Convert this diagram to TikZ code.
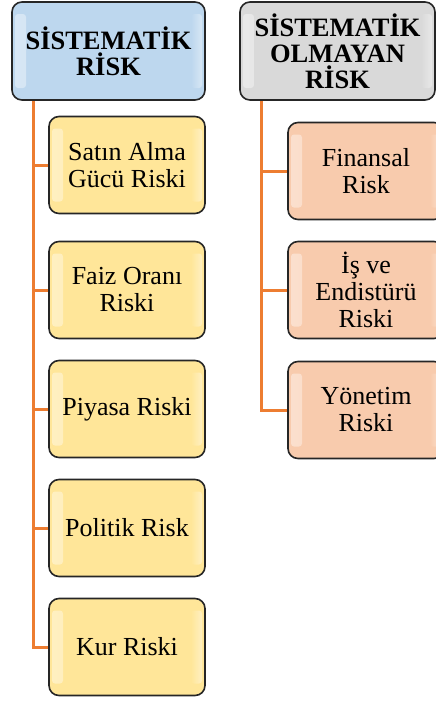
\documentclass[tikz,border=0pt]{standalone}
\usepackage{fontspec}
\setmainfont{Liberation Serif}
\usetikzlibrary{calc}
\definecolor{hblue}{HTML}{BDD7EE}
\definecolor{hgray}{HTML}{D9D9D9}
\definecolor{cyel}{HTML}{FFE699}
\definecolor{corg}{HTML}{F8CBAD}
\definecolor{lineorg}{HTML}{ED7D31}
\tikzset{
  glossy/.style={draw=black!85, line width=1.6pt, rounded corners=10pt, fill=#1,
    inner sep=0pt, align=center,
    path picture={
      \shade[left color=#1!60!white, middle color=white, right color=#1, rounded corners=3pt]
        ($(path picture bounding box.south west)+(3pt,12pt)$) rectangle
        ($(path picture bounding box.north west)+(14pt,-12pt)$);
      \shade[left color=#1, middle color=white, right color=#1!60!white, rounded corners=3pt]
        ($(path picture bounding box.south east)+(-14pt,12pt)$) rectangle
        ($(path picture bounding box.north east)+(-3pt,-12pt)$);
    }},
  head/.style={glossy=#1, font=\bfseries\fontsize{26.5}{26}\selectfont},
  child/.style={glossy=#1, minimum width=156pt, minimum height=97pt,
    font=\fontsize{26}{27}\selectfont},
  conn/.style={draw=lineorg, line width=3pt}
}
\begin{document}
\begin{tikzpicture}[x=1pt,y=-1pt]
\useasboundingbox (0,0) rectangle (436,702);
\clip (0,0) rectangle (436,702);
% headers
\node[head=hblue, minimum width=193pt, minimum height=98pt] (h1) at (108.5,51) {SİSTEMATİK\\RİSK};
\node[head=hgray, minimum width=195pt, minimum height=98pt] (h2) at (337.5,51) {SİSTEMATİK\\OLMAYAN\\RİSK};
% left children
\node[child=cyel] (c1) at (127,165) {Satın Alma\\Gücü Riski};
\node[child=cyel] (c2) at (127,290) {Faiz Oranı\\Riski};
\node[child=cyel] (c3) at (127,409) {Piyasa Riski};
\node[child=cyel] (c4) at (127,528) {Politik Risk};
\node[child=cyel] (c5) at (127,647) {Kur Riski};
% right children
\node[child=corg] (d1) at (366,171) {Finansal\\Risk};
\node[child=corg] (d2) at (366,290) {İş ve\\Endistürü\\Riski};
\node[child=corg] (d3) at (366,410) {Yönetim\\Riski};
% connectors
\coordinate (lt) at (33,101);
\coordinate (rt) at (261,101);
\draw[conn] (lt) |- (c5.west);
\foreach \n in {c1,c2,c3,c4} \draw[conn] (\n.west) -- (\n.west -| lt);
\draw[conn] (rt) |- (d3.west);
\foreach \n in {d1,d2} \draw[conn] (\n.west) -- (\n.west -| rt);
\end{tikzpicture}
\end{document}
